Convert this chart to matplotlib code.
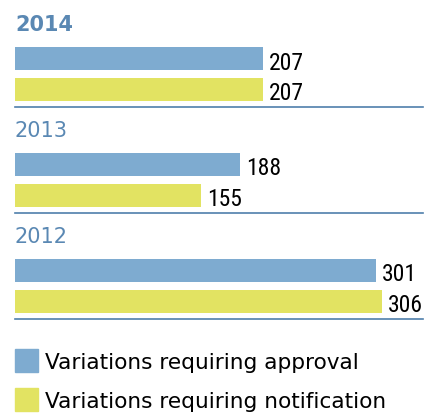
import numpy as np
import matplotlib
matplotlib.use('Agg')
import matplotlib.pyplot as plt
from matplotlib.patches import Rectangle
from matplotlib import font_manager

# Data.
years = ['2014', '2013', '2012']
approval = [207, 188, 301]
notification = [207, 155, 306]
series_labels = ['Variations requiring approval', 'Variations requiring notification']

blue = '#7eabd0'
yellow = '#e2e362'
year_colour = '#5a88b3'
line_colour = '#4f7fab'

# Prefer a narrow face for the numbers if one is installed.
names = {f.name for f in font_manager.fontManager.ttflist}
narrow = [n for n in ['Liberation Sans Narrow', 'DejaVu Sans Condensed', 'Roboto Condensed']
          if n in names]
num_family = narrow[:1] + ['DejaVu Sans']
num_size = 17 if narrow else 15

# Figure in pixel layout: x in data units, y in pixels (top down).
W, H = 427, 414
fig = plt.figure(figsize=(W / 100, H / 100), dpi=100)
ax = fig.add_axes([0, 0, 1, 1])
px = 1.198  # pixels per unit
x0 = 15
ax.set_xlim(-x0 / px, (W - x0) / px)
ax.set_ylim(H, 0)
ax.axis('off')

block = 106
bar_h = 23
for i, year in enumerate(years):
    top = i * block
    ax.text(0, top + 25, year, color=year_colour, fontsize=15, family=['DejaVu Sans'],
            fontweight='bold' if i == 0 else 'normal', va='center', ha='left')
    yb = top + 59.5
    yy = top + 90
    ax.barh(yb, approval[i], height=bar_h, left=0, color=blue)
    ax.barh(yy, notification[i], height=bar_h, left=0, color=yellow)
    ax.text(approval[i] + 6 / px, yb + 3.5, str(approval[i]), fontsize=num_size,
            family=num_family, va='center', ha='left', color='black')
    ax.text(notification[i] + 6 / px, yy + 3.5, str(notification[i]), fontsize=num_size,
            family=num_family, va='center', ha='left', color='black')
    ax.plot([0, (W - 4 - x0) / px], [top + 108, top + 108], color=line_colour, lw=1.2)

# Legend.
for j, (lab, col) in enumerate(zip(series_labels, [blue, yellow])):
    yc = 361.5 + j * 39
    ax.add_patch(Rectangle((0, yc - 11.5), 23 / px, 23, color=col))
    ax.text(30 / px, yc + 2, lab, fontsize=15.6, va='center', ha='left',
            family=['DejaVu Sans'], color='black')

fig.savefig('out.png', dpi=100)
